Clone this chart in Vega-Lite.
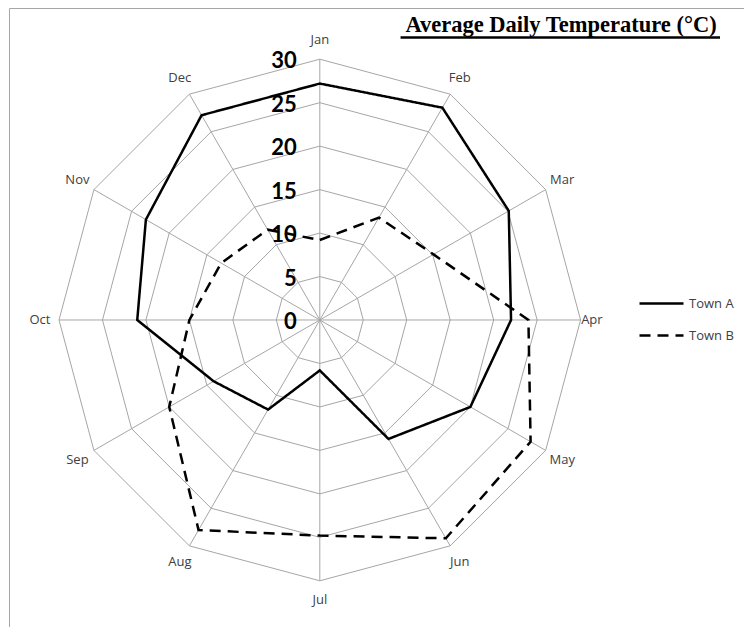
{
  "$schema": "https://vega.github.io/schema/vega-lite/v6.json",
  "width": 735,
  "height": 619,
  "autosize": "none",
  "padding": {"left": 9, "top": 8, "right": 0, "bottom": 0},
  "background": "white",
  "config": {
    "view": {"stroke": "#a6a6a6", "strokeWidth": 1}
  },
  "datasets": {
    "temps": [
      {"month": "Jan", "Town A": 27.2, "Town B": 9.2},
      {"month": "Feb", "Town A": 28.2, "Town B": 13.6},
      {"month": "Mar", "Town A": 25.1, "Town B": 15.1},
      {"month": "Apr", "Town A": 22.0, "Town B": 24.0},
      {"month": "May", "Town A": 20.0, "Town B": 28.0},
      {"month": "Jun", "Town A": 15.8, "Town B": 29.0},
      {"month": "Jul", "Town A": 5.8, "Town B": 24.8},
      {"month": "Aug", "Town A": 11.9, "Town B": 27.9},
      {"month": "Sep", "Town A": 14.1, "Town B": 20.0},
      {"month": "Oct", "Town A": 21.0, "Town B": 15.0},
      {"month": "Nov", "Town A": 23.1, "Town B": 13.1},
      {"month": "Dec", "Town A": 27.2, "Town B": 12.0}
    ],
    "ticks": [{"v": 0}, {"v": 5}, {"v": 10}, {"v": 15}, {"v": 20}, {"v": 25}, {"v": 30}],
    "title": [{"t": "Average Daily Temperature (°C)"}]
  },
  "layer": [
    {
      "data": {"name": "temps"},
      "transform": [
        {"calculate": "indexof(['Jan','Feb','Mar','Apr','May','Jun','Jul','Aug','Sep','Oct','Nov','Dec'], datum.month)", "as": "i"},
        {"calculate": "[0, 30]", "as": "rr"},
        {"flatten": ["rr"]},
        {"calculate": "datum.rr*sin(datum.i*PI/6)", "as": "x"},
        {"calculate": "datum.rr*cos(datum.i*PI/6)", "as": "y"}
      ],
      "mark": {"type": "line", "color": "#a6a6a6", "strokeWidth": 1},
      "encoding": {
        "x": {"field": "x", "type": "quantitative", "scale": {"domain": [-35.753, 48.798], "nice": false, "zero": false}, "axis": null},
        "y": {"field": "y", "type": "quantitative", "scale": {"domain": [-35.316, 35.891], "nice": false, "zero": false}, "axis": null},
        "detail": {"field": "month", "type": "nominal"},
        "order": {"field": "rr", "type": "quantitative"}
      }
    },
    {
      "data": {"name": "ticks"},
      "transform": [
        {"filter": "datum.v > 0"},
        {"calculate": "['Jan','Feb','Mar','Apr','May','Jun','Jul','Aug','Sep','Oct','Nov','Dec']", "as": "month"},
        {"flatten": ["month"]},
        {"calculate": "indexof(['Jan','Feb','Mar','Apr','May','Jun','Jul','Aug','Sep','Oct','Nov','Dec'], datum.month)", "as": "i"},
        {"calculate": "datum.v*sin(datum.i*PI/6)", "as": "x"},
        {"calculate": "datum.v*cos(datum.i*PI/6)", "as": "y"}
      ],
      "mark": {"type": "line", "interpolate": "linear-closed", "color": "#a6a6a6", "strokeWidth": 1},
      "encoding": {
        "x": {"field": "x", "type": "quantitative", "axis": null},
        "y": {"field": "y", "type": "quantitative", "axis": null},
        "detail": {"field": "v", "type": "nominal"},
        "order": {"field": "i", "type": "quantitative"}
      }
    },
    {
      "data": {"name": "temps"},
      "transform": [
        {"calculate": "indexof(['Jan','Feb','Mar','Apr','May','Jun','Jul','Aug','Sep','Oct','Nov','Dec'], datum.month)", "as": "i"},
        {"calculate": "(datum.month == 'Apr' ? 31.3 : 32.2)*sin(datum.i*PI/6)", "as": "lx"},
        {"calculate": "32.2*cos(datum.i*PI/6)", "as": "ly"}
      ],
      "mark": {"type": "text", "font": "Open Sans", "fontSize": 13, "color": "#404040", "align": "center", "baseline": "middle"},
      "encoding": {
        "x": {"field": "lx", "type": "quantitative", "axis": null},
        "y": {"field": "ly", "type": "quantitative", "axis": null},
        "text": {"field": "month", "type": "nominal"}
      }
    },
    {
      "data": {"name": "ticks"},
      "transform": [
        {"calculate": "0", "as": "zx"}
      ],
      "mark": {"type": "text", "font": "Lato", "fontWeight": "bold", "fontSize": 22, "color": "black", "align": "right", "baseline": "middle", "dx": -23, "dy": 2},
      "encoding": {
        "x": {"field": "zx", "type": "quantitative", "axis": null},
        "y": {"field": "v", "type": "quantitative", "axis": null},
        "text": {"field": "v", "type": "quantitative"}
      }
    },
    {
      "data": {"name": "temps"},
      "transform": [
        {"fold": ["Town A", "Town B"], "as": ["town", "temp"]},
        {"calculate": "indexof(['Jan','Feb','Mar','Apr','May','Jun','Jul','Aug','Sep','Oct','Nov','Dec'], datum.month)", "as": "i"},
        {"calculate": "datum.temp*sin(datum.i*PI/6)", "as": "x"},
        {"calculate": "datum.temp*cos(datum.i*PI/6)", "as": "y"}
      ],
      "mark": {"type": "line", "interpolate": "linear-closed", "color": "black", "strokeWidth": 2.5},
      "encoding": {
        "x": {"field": "x", "type": "quantitative", "axis": null},
        "y": {"field": "y", "type": "quantitative", "axis": null},
        "order": {"field": "i", "type": "quantitative"},
        "strokeDash": {
          "field": "town",
          "type": "nominal",
          "scale": {"domain": ["Town A", "Town B"], "range": [[1, 0], [11, 7]]},
          "legend": {
            "title": null,
            "orient": "none",
            "legendX": 629,
            "legendY": 272,
            "symbolType": "stroke",
            "symbolSize": 1936,
            "symbolStrokeWidth": 2.5,
            "symbolStrokeColor": "black",
            "labelFont": "Open Sans",
            "labelFontSize": 13,
            "labelColor": "#404040",
            "labelOffset": 4,
            "rowPadding": 1
          }
        }
      }
    },
    {
      "data": {"name": "title"},
      "transform": [
        {"calculate": "27.75", "as": "tx"},
        {"calculate": "33.1", "as": "ty"}
      ],
      "mark": {"type": "text", "font": "Liberation Serif", "fontWeight": "bold", "fontSize": 22.5, "color": "black", "align": "center", "baseline": "alphabetic"},
      "encoding": {
        "x": {"field": "tx", "type": "quantitative", "axis": null},
        "y": {"field": "ty", "type": "quantitative", "axis": null},
        "text": {"field": "t", "type": "nominal"}
      }
    },
    {
      "data": {"name": "title"},
      "transform": [
        {"calculate": "9.29", "as": "ux1"},
        {"calculate": "46.04", "as": "ux2"},
        {"calculate": "32.5", "as": "uy"}
      ],
      "mark": {"type": "rule", "color": "black", "strokeWidth": 2.5},
      "encoding": {
        "x": {"field": "ux1", "type": "quantitative", "axis": null},
        "x2": {"field": "ux2"},
        "y": {"field": "uy", "type": "quantitative", "axis": null}
      }
    }
  ]
}
